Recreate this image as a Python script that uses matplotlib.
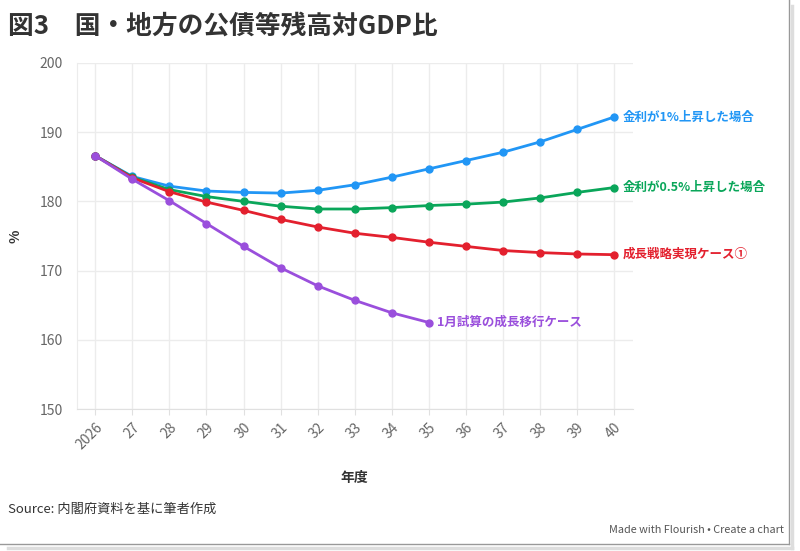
import matplotlib.pyplot as plt
from matplotlib.lines import Line2D

plt.rcParams['font.family'] = ['Noto Sans CJK JP', 'DejaVu Sans']

# data
years = ['2026', '27', '28', '29', '30', '31', '32', '33', '34', '35', '36', '37', '38', '39', '40']
rate_1pct = [186.6, 183.6, 182.2, 181.5, 181.3, 181.2, 181.6, 182.4, 183.5, 184.7, 185.9, 187.1, 188.6, 190.4, 192.2]
rate_05pct = [186.6, 183.5, 181.7, 180.7, 180.0, 179.3, 178.9, 178.9, 179.1, 179.4, 179.6, 179.9, 180.5, 181.3, 182.0]
growth_case = [186.6, 183.4, 181.4, 179.9, 178.7, 177.4, 176.3, 175.4, 174.8, 174.1, 173.5, 172.9, 172.6, 172.4, 172.3]
jan_case = [186.6, 183.2, 180.1, 176.8, 173.5, 170.4, 167.8, 165.7, 163.9, 162.5]

series = [
    ('金利が1%上昇した場合', rate_1pct, '#2196f5'),
    ('金利が0.5%上昇した場合', rate_05pct, '#0aa65a'),
    ('成長戦略実現ケース①', growth_case, '#e3202e'),
    ('1月試算の成長移行ケース', jan_case, '#9a4fdc'),
]

fig = plt.figure(figsize=(8, 5.51), dpi=100)
ax = fig.add_axes([0.0959, 0.2577, 0.6951, 0.628])

x = list(range(len(years)))
for name, vals, col in series:
    xs = x[:len(vals)]
    ax.plot(xs, vals, color=col, lw=2.0, marker='o', ms=5, zorder=3)
    ax.annotate(name, (xs[-1], vals[-1]), xytext=(6, 0), textcoords='offset points',
                color=col, fontsize=9, fontweight='bold', va='center', ha='left',
                annotation_clip=False)

ax.set_xlim(-0.5, 14.5)
ax.set_ylim(150, 200)
ax.set_xticks(x)
ax.set_xticklabels(years, rotation=45, ha='right', rotation_mode='anchor')
ax.set_yticks(range(150, 201, 10))
ax.grid(True, color='#ececec', lw=1)
ax.set_axisbelow(True)
for s in ['top', 'right']:
    ax.spines[s].set_visible(False)
ax.spines['left'].set_color('#ececec')
ax.spines['bottom'].set_color('#e0e0e0')
ax.tick_params(axis='both', colors='#666666', labelsize=10, length=4)
ax.tick_params(axis='y', length=0, pad=10)
ax.tick_params(axis='x', color='#e0e0e0', pad=4)

ax.set_xlabel('年度', fontsize=10, fontweight='bold', color='#333333', labelpad=14)
ax.set_ylabel('%', fontsize=10, fontweight='bold', color='#333333', labelpad=12)

fig.text(0.01, 0.953, '図3　国・地方の公債等残高対GDP比', fontsize=18.5, fontweight='bold',
         color='#333333', va='center')
fig.text(0.01, 0.076, 'Source: 内閣府資料を基に筆者作成', fontsize=9.5, color='#333333', va='center')
fig.text(0.98, 0.038, 'Made with Flourish • Create a chart', fontsize=7.8, color='#555555',
         va='center', ha='right')

# frame with shadow around the screenshot
fig.add_artist(Line2D([0.986, 0.986], [0.012, 1.0], color='#999999', lw=1.0, transform=fig.transFigure))
fig.add_artist(Line2D([0.0, 0.986], [0.012, 0.012], color='#999999', lw=1.0, transform=fig.transFigure))
fig.add_artist(Line2D([0.990, 0.990], [0.006, 0.99], color='#dddddd', lw=2.5, transform=fig.transFigure))
fig.add_artist(Line2D([0.01, 0.990], [0.006, 0.006], color='#dddddd', lw=2.5, transform=fig.transFigure))

fig.savefig('out.png', dpi=100)
